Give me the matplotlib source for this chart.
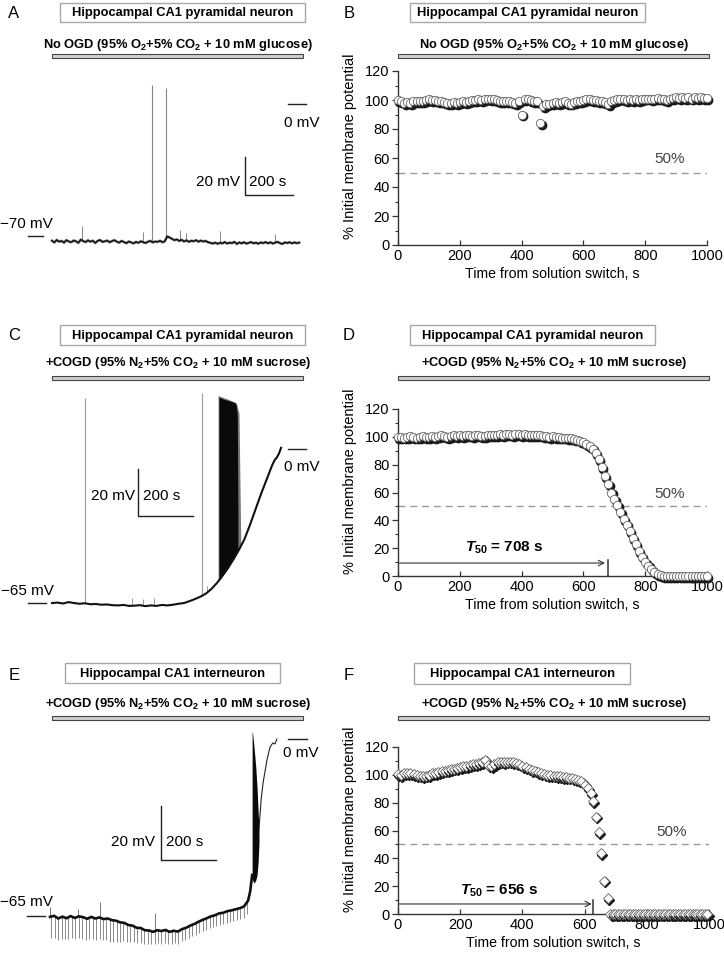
import numpy as np
import matplotlib
matplotlib.use("Agg")
import matplotlib.pyplot as plt
from matplotlib.patches import Rectangle
from matplotlib import transforms

plt.rcParams['font.family'] = ['Liberation Sans', 'DejaVu Sans']
plt.rcParams['mathtext.fontset'] = 'custom'
plt.rcParams['mathtext.rm'] = 'Liberation Sans'
plt.rcParams['mathtext.bf'] = 'Liberation Sans:bold'
plt.rcParams['mathtext.it'] = 'Liberation Sans:italic:bold'

W, H = 724, 965

##### data: right panels (% initial membrane potential) #####
b_time = np.arange(0, 1001, 10)
b_pct = [100, 99, 98, 98.5, 98, 99, 99, 99.5, 99, 100,
         100.5, 100, 100, 99.5, 99, 98.5, 98, 98, 98.5, 98,
         98.5, 99, 98.5, 99.5, 100, 100, 100.5, 100, 100.5, 101,
         100.5, 100.5, 100, 99.5, 99, 99.5, 99, 98.5, 98, 99,
         90, 100.5, 101, 100, 99.5, 99, 84, 96, 97, 97.5,
         98, 98.5, 98, 98.5, 99, 98, 97.5, 98.5, 99, 99.5,
         100, 100.5, 100.5, 100, 100, 99.5, 99, 98.5, 97, 99,
         100, 100.5, 101, 100.5, 100, 100.5, 100, 100.5, 100, 100.5,
         101, 101, 100.5, 101, 101.5, 101, 100.5, 100, 101, 101.5,
         102, 101.5, 102, 101.5, 102, 101, 102, 101.5, 102, 101.5,
         101.5]

d_time = np.arange(0, 1001, 10)
d_pct = [100, 100, 99.5, 100, 100.5, 100, 99.5, 100, 100.5, 100,
         100, 100.5, 100, 100.5, 101, 100.5, 100, 100.5, 101, 100.5,
         101, 100.5, 101, 101, 100.5, 101, 101, 100.5, 100.5, 101,
         101, 101.5, 101, 102, 101.5, 102, 102, 101.5, 102, 102,
         101.5, 102, 101.5, 101, 101.5, 101, 101, 100.5, 100.5, 100,
         100.5, 100, 100, 99.5, 99.5, 99, 99, 98.5, 98, 97,
         96, 95, 93.5, 91.5, 88.5, 84, 78, 72, 66, 60,
         55, 51, 46, 41, 37, 32, 27, 23, 18, 14,
         10, 7.5, 5, 3, 1.5, 0.5, 0, 0, 0, 0,
         0, 0, 0, 0, 0, 0, 0, 0, 0, 0,
         0]

f_time = list(range(0, 611, 10)) + [619, 627, 637, 646, 653, 662, 675] + list(range(683, 1001, 8))
f_pct = [100.5, 100, 101, 101.5, 101, 100.5, 100, 99.5, 99, 99.5,
         100, 101, 101.5, 102, 102.5, 103, 103.5, 104, 104.5, 105,
         105.5, 106, 106.5, 107, 107.5, 108, 108.5, 109, 111, 107,
         106.5, 108, 109, 109.5, 109, 109.5, 109.5, 109, 108.5, 107.5,
         106.5, 105.5, 104.5, 103.5, 103, 102, 101, 100.5, 100, 100,
         99.5, 99, 99, 98.5, 98.5, 98, 97.5, 97, 96.5, 95.5,
         93, 90.5,
         87, 81, 70, 59, 44, 24, 11.5] + [0] * len(range(683, 1001, 8))

##### data: left panels (membrane potential, mV) #####
a_time = np.arange(0, 1031, 10)
a_mv = [-72.5, -73.4, -72.1, -73.0, -72.6, -73.5, -72.2, -72.9, -73.3, -72.4,
        -72.8, -73.6, -71.9, -72.7, -73.2, -72.3, -73.0, -72.5, -73.7, -72.6,
        -72.1, -73.1, -72.8, -72.4, -73.3, -72.7, -72.2, -73.0, -73.5, -72.6,
        -73.2, -73.8, -72.9, -73.4, -73.9, -73.1, -73.6, -72.8, -73.3, -73.7,
        -73.0, -72.6, -73.4, -72.9, -73.1, -72.5, -73.3, -72.8, -70.2, -70.8,
        -71.5, -72.2, -71.8, -72.6, -72.0, -72.9, -72.3, -73.1, -72.5, -72.8,
        -72.2, -73.0, -72.4, -72.9, -72.6, -73.3, -73.6, -74.0, -73.5, -74.1,
        -73.6, -73.9, -73.2, -74.0, -73.5, -73.8, -73.1, -74.2, -73.4, -73.9,
        -73.3, -74.0, -73.6, -73.2, -73.9, -73.5, -74.1, -73.4, -73.8, -73.2,
        -73.9, -73.3, -74.0, -73.5, -73.1, -73.8, -74.2, -73.4, -73.7, -73.3,
        -73.9, -73.4, -73.8, -73.5]
a_spike_t = [417, 475]
a_spike_top = [10, 8.5]
a_small_t = [125, 380, 533, 560, 700, 930]
a_small_top = [-64.5, -68, -67, -68.5, -67.5, -69]

c_time = list(range(0, 801, 20)) + [810, 818, 825, 833]
c_mv = [-65.0, -64.8, -65.2, -64.6, -65.0, -65.3, -65.1, -65.5, -65.4, -65.7,
        -65.6, -65.9, -66.0, -65.8, -66.2, -66.1, -65.9, -66.3, -66.0, -66.2,
        -65.8, -66.0, -65.7, -65.3, -65.0, -64.2, -63.3, -62.3, -61.0, -59.0,
        -56.5, -53.5, -50.2, -46.5, -42.5, -38.0, -32.0, -25.5, -19.0, -13.0,
        -7.0, -4.6, -3.5, -2.0, 0.5]
c_burst_t = [607, 615, 625, 640, 655, 665, 670, 674, 676]
c_burst_top = [22, 21.5, 21, 20.5, 20, 19.5, 18.5, 14, -30]
c_burst_low = [-55.5, -54.3, -52.7, -50.2, -47.4, -45.5, -44.5, -43.7, -43.3]
c_fringe_t = [604, 640, 670, 680, 686]
c_fringe_top = [22.5, 21, 19.5, 15, -35]
c_fringe_low = [-56, -50.2, -44.5, -42, -40]
c_spike_t = [120, 545]
c_spike_top = [21.5, 23.6]
c_small_t = [290, 330, 370, 565, 575]
c_small_top = [-63, -63.5, -63, -58, -59]

e_time = list(range(0, 721, 15)) + [728, 735]
e_mv = [-65.4, -65.0, -66.0, -65.3, -65.9, -65.1, -65.8, -65.2, -65.5, -66.1,
        -65.4, -66.0, -65.6, -66.2, -66.0, -66.6, -66.8, -67.4, -67.6, -68.4,
        -68.6, -69.4, -69.5, -70.3, -70.4, -70.9, -70.3, -70.6, -70.2, -70.9,
        -70.5, -70.8, -69.9, -69.4, -68.6, -68.0, -67.2, -66.5, -65.9, -65.2,
        -64.8, -64.1, -63.9, -63.3, -63.0, -62.6, -62.2, -61.6, -59.5,
        -56, -50]
e_late_t = [760, 768, 775, 789, 800, 810, 818, 825]
e_late_mv = [-33, -22, -16, -7.7, -3, -1.5, -1.8, 0]
e_burst_t = [735, 737, 742, 748, 753, 757, 760]
e_burst_top = [2.7, 2.0, -3, -10, -18, -27, -33]
e_burst_low = [-50, -52, -53, -52, -50, -45, -38]
e_pulse_t = [5, 17, 30, 42, 55, 67, 80, 92, 105, 117, 130, 142, 155, 167, 180, 192,
             205, 217, 230, 242, 255, 267, 280, 292, 305, 317, 330, 342, 355, 367,
             380, 392, 405, 417, 430, 442, 455, 467, 480, 492, 505, 517, 530, 542,
             555, 567, 580, 592, 605, 617, 630, 642, 655, 667, 680, 692, 705, 717]
e_pulse_bottom = [-73.3, -73.1, -74, -73.4, -73.7, -73.5, -73.3, -73.7, -73.2, -73.5,
                  -73.9, -73.7, -73.6, -74, -73.6, -74, -74, -74.5, -74.7, -74.5,
                  -74.5, -74.4, -74.7, -74.8, -74.8, -75, -75, -75.4, -75.4, -75.4,
                  -75.4, -75, -75.2, -75, -75.2, -75.2, -75, -75.2, -74.4, -74,
                  -73.3, -72.6, -72, -71.3, -70.6, -70.2, -69.6, -69.2, -68.8, -68.3,
                  -68, -67.5, -67.2, -66.9, -66.6, -66.2, -65.8, -64.5]
e_small_t = [0, 100, 182, 382]
e_small_top = [-61.8, -62.5, -60, -64]

titles = ['Hippocampal CA1 pyramidal neuron', 'Hippocampal CA1 pyramidal neuron',
          'Hippocampal CA1 interneuron']
cond_ctrl = r'No OGD (95% O$_\mathbf{2}$+5% CO$_\mathbf{2}$ + 10 mM glucose)'
cond_ogd = r'+COGD (95% N$_\mathbf{2}$+5% CO$_\mathbf{2}$ + 10 mM sucrose)'

fig = plt.figure(figsize=(W / 100, H / 100), dpi=100)


def fbox(x0, y0, x1, y1):
    return [x0 / W, 1 - y1 / H, (x1 - x0) / W, (y1 - y0) / H]


def ftext(x, y, s, **kw):
    fig.text(x / W, 1 - y / H, s, **kw)


def header(box, title, cond_y, cond, bar):
    x0, y0, x1, y1 = box
    fig.add_artist(Rectangle((x0 / W, 1 - y1 / H), (x1 - x0) / W, (y1 - y0) / H,
                             transform=fig.transFigure, fc='white', ec='#a8a8a8', lw=1))
    ftext((x0 + x1) / 2, (y0 + y1) / 2 + 0.5, title, ha='center', va='center',
          fontsize=9.3, fontweight='bold')
    bx0, bx1, by = bar
    ftext((bx0 + bx1) / 2, cond_y, cond, ha='center', va='center', fontsize=9.3,
          fontweight='bold')
    fig.add_artist(Rectangle((bx0 / W, 1 - (by + 2) / H), (bx1 - bx0) / W, 4 / H,
                             transform=fig.transFigure, fc='#cfcfcf', ec='#444444', lw=0.8))


def trace_axes(top, bottom, t0_px, px_s, zero_px, px_mv):
    ax = fig.add_axes(fbox(0, top, 362, bottom))
    ax.set_xlim((0 - t0_px) / px_s, (362 - t0_px) / px_s)
    ax.set_ylim((zero_px - bottom) / px_mv, (zero_px - top) / px_mv)
    ax.axis('off')
    return ax


def marks(ax, left, right, rest, t_bar, v_bar, text_pos):
    # 0 mV and resting markers, scale bar
    ax.plot(right[:2], [0, 0], color='#222', lw=1)
    ax.text(right[2], right[3], '0 mV', ha='center', va='center', fontsize=11)
    ax.plot(left[:2], [rest, rest], color='#222', lw=1)
    ax.text(left[2], left[3], '\u2212%d mV' % abs(rest), ha='center', va='center', fontsize=11)
    ax.plot([t_bar, t_bar, t_bar + 200], [v_bar + 20, v_bar, v_bar], color='#222', lw=1)
    ax.text(text_pos[0], v_bar + text_pos[2], '20 mV', ha='right', va='center', fontsize=11)
    ax.text(text_pos[1], v_bar + text_pos[2], '200 s', ha='left', va='center', fontsize=11)


def pct_axes(rect, t, v, marker, ms, t50=None):
    ax = fig.add_axes(fbox(*rect))
    ax.set_xlim(0, 1000)
    ax.set_ylim(0, 120)
    ax.plot([0, 1000], [50, 50], color='#9a9a9a', lw=1, ls=(0, (5, 3.5)), zorder=1)
    ax.text(880, 59, '50%', ha='center', va='center', fontsize=11, color='#444')
    shadow = transforms.offset_copy(ax.transData, fig=fig, x=1.0, y=-1.3, units='points')
    for ti, vi in zip(t, v):
        ax.plot([ti], [vi], marker=marker, ms=ms, mfc='#1a1a1a', mec='#1a1a1a', ls='none',
                transform=shadow, clip_on=False, zorder=3)
        ax.plot([ti], [vi], marker=marker, ms=ms, mfc='white', mec='#666', mew=0.6,
                ls='none', clip_on=False, zorder=3)
    if t50 is not None:
        label, arrow_end, tick_t, arrow_y, tick_top, tx, ty = t50
        ax.annotate('', xy=(arrow_end, arrow_y), xytext=(5, arrow_y),
                    arrowprops=dict(arrowstyle='->', color='#333', lw=0.8,
                                    shrinkA=0, shrinkB=0))
        ax.plot([tick_t, tick_t], [0, tick_top], color='#333', lw=1.1, zorder=2)
        ax.text(tx, ty, label, ha='center', va='center', fontsize=11, fontweight='bold')
    for s in ['top', 'right']:
        ax.spines[s].set_visible(False)
    for s in ['left', 'bottom']:
        ax.spines[s].set_color('#333')
        ax.spines[s].set_linewidth(1)
    ax.set_yticks(range(0, 121, 20))
    ax.set_yticks(range(10, 120, 20), minor=True)
    ax.set_xticks(range(0, 1001, 200))
    ax.tick_params(axis='y', which='major', direction='out', length=4, width=0.9,
                   labelsize=10.5, pad=2, color='#333')
    ax.tick_params(axis='y', which='minor', direction='out', length=2.5, width=0.8, color='#333')
    ax.tick_params(axis='x', which='major', direction='in', length=3.5, width=0.9,
                   labelsize=10.5, pad=3, color='#333')
    ax.set_xlabel('Time from solution switch, s', fontsize=10.2, labelpad=3)
    ax.set_ylabel('% Initial membrane potential', fontsize=10.5)
    ax.yaxis.set_label_coords(-0.133, 0.57)
    return ax


##### panel letters and headers #####
for letter, x, y in [('A', 14, 14), ('B', 349, 14), ('C', 14, 335), ('D', 349, 335),
                     ('E', 14, 675), ('F', 349, 675)]:
    ftext(x, y, letter, ha='center', va='center', fontsize=12)

header((60, 3, 305, 22), titles[0], 45, cond_ctrl, (52, 303, 56))
header((410, 3, 645, 22), titles[0], 45, cond_ctrl, (398, 709, 56))
header((60, 325, 305, 345), titles[1], 363, cond_ogd, (52, 303, 378))
header((410, 325, 655, 345), titles[1], 363, cond_ogd, (398, 709, 378))
header((65, 663, 280, 683), titles[2], 704, cond_ogd, (52, 303, 718))
header((414, 663, 630, 684), titles[2], 704, cond_ogd, (398, 709, 718))

##### A: trace, no OGD #####
ax = trace_axes(60, 300, 52, 0.24, 104, 1.886)
ax.vlines(a_small_t, np.interp(a_small_t, a_time, a_mv), a_small_top, color='#888', lw=0.7)
ax.vlines(a_spike_t, np.interp(a_spike_t, a_time, a_mv), a_spike_top, color='#888', lw=0.8)
ax.plot(a_time, a_mv, color='#444', lw=2.0, alpha=0.6)
ax.plot(a_time, a_mv, color='#111', lw=1.1)
marks(ax, (-100, -37, -108, -63.6), (983, 1058, 1042, -10), -70, 804, -48.3, (783, 821, 7))

##### C: trace, COGD pyramidal #####
ax = trace_axes(382, 640, 52, 0.275, 449, 2.37)
ax.vlines(c_spike_t, np.interp(c_spike_t, c_time, c_mv), c_spike_top, color='#999', lw=0.8)
ax.vlines(c_small_t, np.interp(c_small_t, c_time, c_mv), c_small_top, color='#999', lw=0.7)
ax.fill_between(c_fringe_t, c_fringe_low, c_fringe_top, color='#777', lw=0)
ax.fill_between(c_burst_t, c_burst_low, c_burst_top, color='#0a0a0a', lw=0)
ax.plot(c_time, c_mv, color='#111', lw=1.5)
marks(ax, (-87, -22, -91, -60), (858, 924, 909, -7.6), -65, 313, -28.3, (302, 331, 8.3))

##### E: trace, COGD interneuron #####
ax = trace_axes(722, 962, 50, 0.275, 739, 2.72)
ax.vlines(e_pulse_t, e_pulse_bottom, np.interp(e_pulse_t, e_time, e_mv), color='#8a8a8a', lw=0.7)
ax.vlines(e_small_t, np.interp(e_small_t, e_time, e_mv), e_small_top, color='#777', lw=0.7)
ax.fill_between(e_burst_t, e_burst_low, e_burst_top, color='#0a0a0a', lw=0)
ax.plot(e_time, e_mv, color='#111', lw=1.9)
ax.plot(e_late_t, e_late_mv, color='#222', lw=0.8)
marks(ax, (-84, -18, -84, -60), (865, 935, 913, -5.1), -65, 404, -44.5, (382, 422, 6.7))

##### B, D, F: normalised potential #####
pct_axes((398, 71, 707, 245), b_time, b_pct, 'o', 6)
pct_axes((398, 409, 707, 576), d_time, d_pct, 'o', 6,
         (r'$T_{\mathbf{50}}$ = 708 s', 670, 678, 9.3, 11.5, 343, 20))
pct_axes((398, 747, 709, 914), f_time, f_pct, 'D', 5.5,
         (r'$T_{\mathbf{50}}$ = 656 s', 623, 627, 7.2, 10, 325, 16.5))

fig.savefig('out.png', dpi=100)
